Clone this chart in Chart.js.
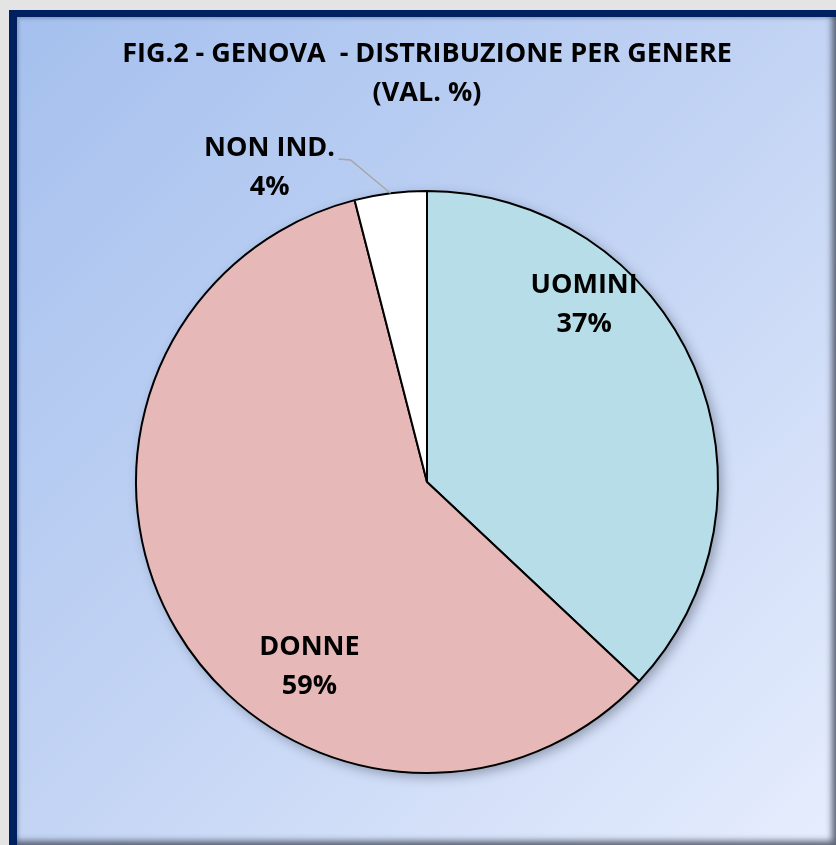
<!DOCTYPE html>
<html>
<head>
<meta charset="utf-8">
<script src="https://cdn.jsdelivr.net/npm/chart.js@4"></script>
<style>
  html, body { margin: 0; padding: 0; }
  body { width: 836px; height: 845px; background: #e4e4e4; overflow: hidden; position: relative; }
  .frame { position: absolute; left: 9px; top: 10px; width: 840px; height: 850px; background: #002060; }
  .panel {
    position: absolute; left: 17px; top: 17px; width: 819px; height: 828px;
    background: linear-gradient(135deg, #a5c0ee 0%, #c3d4f4 50%, #e6edfd 100%);
    box-shadow: inset -7px -7px 6px -3px rgba(70, 78, 95, 0.85), inset 2px 2px 3px rgba(60, 70, 90, 0.3);
  }
  #wrap { position: absolute; left: 0; top: 0; width: 836px; height: 845px; }
</style>
</head>
<body>
<div class="frame"></div>
<div class="panel"></div>
<div id="wrap"><canvas id="myChart" width="836" height="845"></canvas></div>
<script>
const categories = ['UOMINI', 'DONNE', 'NON IND.'];
const values = [37, 59, 4];
const valueLabels = ['37%', '59%', '4%'];
const sliceColors = ['#b7dee8', '#e6b9b8', '#ffffff'];
const titleLines = ['FIG.2 - GENOVA  - DISTRIBUZIONE PER GENERE', '(VAL. %)'];

const FONT = 'bold 27px "Open Sans", "DejaVu Sans", sans-serif';

// soft shadow under the whole pie
const pieShadow = {
  id: 'pieShadow',
  beforeDatasetsDraw(chart) {
    const arc = chart.getDatasetMeta(0).data[0];
    const ctx = chart.ctx;
    ctx.save();
    ctx.shadowColor = 'rgba(40, 50, 70, 0.4)';
    ctx.shadowBlur = 12;
    ctx.shadowOffsetX = 4;
    ctx.shadowOffsetY = 4;
    ctx.beginPath();
    ctx.arc(arc.x, arc.y, arc.outerRadius, 0, Math.PI * 2);
    ctx.fillStyle = '#ffffff';
    ctx.fill();
    ctx.restore();
  }
};

// title + data labels (label spots are fractions of the radius from the centre)
const labelSpots = [[0.54, -0.61], [-0.404, 0.636], [-0.541, -1.079]];

const pieText = {
  id: 'pieText',
  afterDatasetsDraw(chart) {
    const ctx = chart.ctx;
    const arcs = chart.getDatasetMeta(0).data;
    ctx.save();
    ctx.font = FONT;
    ctx.fillStyle = '#000000';
    ctx.textAlign = 'center';
    ctx.textBaseline = 'middle';

    ctx.fillText(titleLines[0], 427, 54);
    ctx.fillText(titleLines[1], 427, 93);

    arcs.forEach((arc, i) => {
      const r = arc.outerRadius;
      const lx = arc.x + labelSpots[i][0] * r;
      const ly = arc.y + labelSpots[i][1] * r;
      ctx.fillStyle = '#000000';
      ctx.fillText(categories[i], lx, ly - 19.5);
      ctx.fillText(valueLabels[i], lx, ly + 19.5);

      // leader line for the label outside the pie
      if (labelSpots[i][1] < -1) {
        const mid = (arc.startAngle + arc.endAngle) / 2;
        const ex = arc.x + Math.cos(mid) * r;
        const ey = arc.y + Math.sin(mid) * r;
        ctx.strokeStyle = '#a6a6a6';
        ctx.lineWidth = 1.5;
        ctx.beginPath();
        ctx.moveTo(lx + 69, ly - 9);
        ctx.lineTo(lx + 81, ly - 8);
        ctx.lineTo(ex, ey);
        ctx.stroke();
      }
    });
    ctx.restore();
  }
};

const ctx = document.getElementById('myChart');
const myChart = new Chart(ctx, {
  type: 'pie',
  data: {
    labels: categories,
    datasets: [{
      data: values,
      backgroundColor: sliceColors,
      borderColor: '#000000',
      borderWidth: 2
    }]
  },
  options: {
    responsive: false,
    animation: false,
    events: [],
    layout: {
      padding: { top: 190, bottom: 71, left: 135, right: 117 }
    },
    plugins: {
      legend: { display: false },
      title: { display: false },
      tooltip: { enabled: false }
    }
  },
  plugins: [pieShadow, pieText]
});
</script>
</body>
</html>
